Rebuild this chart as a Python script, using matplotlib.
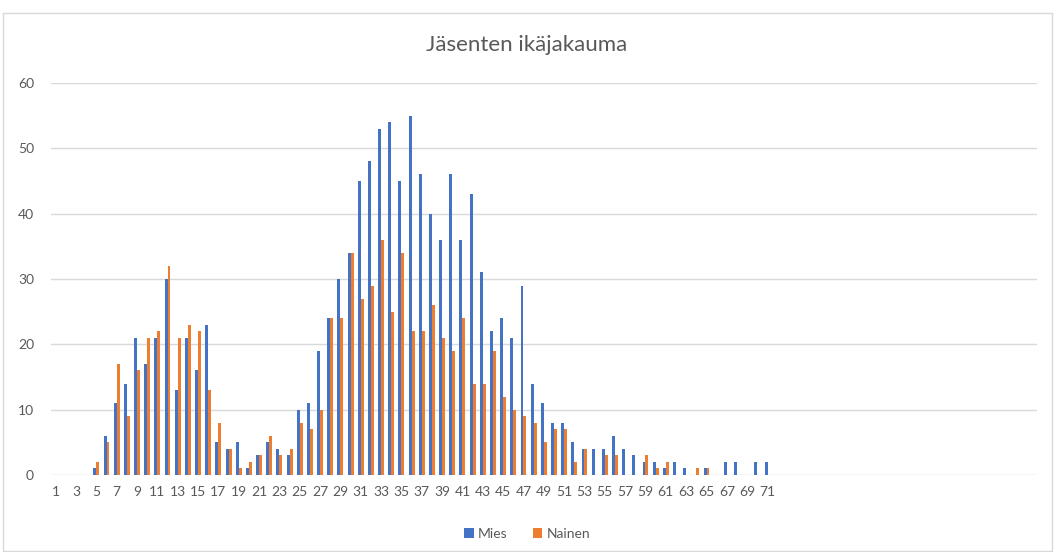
import matplotlib
matplotlib.use("Agg")
import matplotlib.pyplot as plt
from matplotlib.patches import Rectangle
import numpy as np

# ---- data ----
n_categories = 97
category_labels = [str(i) for i in range(1, 72)] + [""] * (n_categories - 71)

mies = [0, 0, 0, 0, 1, 6, 11, 14, 21, 17, 21, 30, 13, 21, 16, 23, 5, 4, 5, 1,
        3, 5, 4, 3, 10, 11, 19, 24, 30, 34, 45, 48, 53, 54, 45, 55, 46, 40, 36, 46,
        36, 43, 31, 22, 24, 21, 29, 14, 11, 8, 8, 5, 4, 4, 4, 6, 4, 3, 2, 2,
        1, 2, 1, 0, 1, 0, 2, 2, 0, 2, 2]
nainen = [0, 0, 0, 0, 2, 5, 17, 9, 16, 21, 22, 32, 21, 23, 22, 13, 8, 4, 1, 2,
          3, 6, 3, 4, 8, 7, 10, 24, 24, 34, 27, 29, 36, 25, 34, 22, 22, 26, 21, 19,
          24, 14, 14, 19, 12, 10, 9, 8, 5, 7, 7, 2, 4, 0, 3, 3, 0, 0, 3, 1,
          2, 0, 0, 1, 1, 0, 0, 0, 0, 0, 0]
series_names = ["Mies", "Nainen"]
title = "Jäsenten ikäjakauma"
y_ticks = [0, 10, 20, 30, 40, 50, 60]

# pad to full category count
mies_full = np.array(mies + [0] * (n_categories - len(mies)), dtype=float)
nainen_full = np.array(nainen + [0] * (n_categories - len(nainen)), dtype=float)

plt.rcParams['font.family'] = ['Lato', 'DejaVu Sans']
text_color = "#595959"
grid_color = "#d9d9d9"

fig = plt.figure(figsize=(10.55, 5.52), dpi=100)
fig.patch.set_facecolor("white")
# chart border
fig.add_artist(Rectangle((3 / 1055, 0.002), 1049 / 1055, 1 - 13 / 552 - 0.002,
                         transform=fig.transFigure, fill=False,
                         edgecolor=grid_color, linewidth=1.0))

ax = fig.add_axes([50.6 / 1055, 1 - 475 / 552, (1037 - 50.6) / 1055, (475 - 83) / 552])
x = np.arange(1, n_categories + 1)
bw = 0.29
ax.bar(x - bw / 2, mies_full, width=bw, color="#4472C4", label=series_names[0], zorder=3)
ax.bar(x + bw / 2, nainen_full, width=bw, color="#ED7D31", label=series_names[1], zorder=3)

ax.set_xlim(0.5, n_categories + 0.5)
ax.set_ylim(0, 60)
ax.set_yticks(y_ticks)
ax.set_yticklabels([str(v) for v in y_ticks], fontsize=10, color=text_color)
ax.yaxis.grid(True, color=grid_color, linewidth=1.0, zorder=0)
ax.set_axisbelow(True)
for s in ["top", "right", "left", "bottom"]:
    ax.spines[s].set_visible(False)
ax.tick_params(axis="y", length=0, pad=12)

tick_pos = x[::2]
ax.set_xticks(tick_pos)
ax.set_xticklabels(category_labels[::2], fontsize=10, color=text_color)
ax.tick_params(axis="x", length=0, pad=8)

fig.text(527 / 1055, 1 - 45 / 552, title, ha="center", va="center",
         fontsize=16, color=text_color, fontweight="normal")

leg = fig.legend(loc="center", bbox_to_anchor=(527 / 1055, 1 - 534 / 552), ncol=2,
                 frameon=False, fontsize=10, handlelength=0.7, handleheight=0.7,
                 handletextpad=0.3, columnspacing=1.8)
for t in leg.get_texts():
    t.set_color(text_color)

fig.savefig("out.png", dpi=100, facecolor="white")
